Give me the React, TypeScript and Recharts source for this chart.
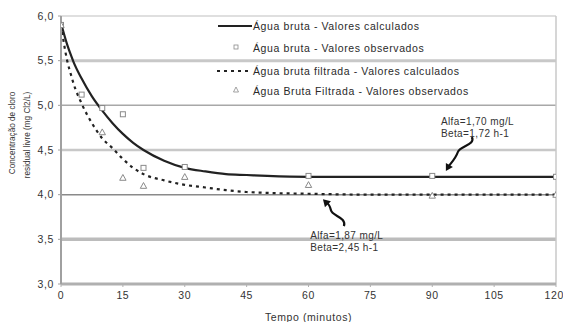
import React from 'react';
import {
  ComposedChart, Line, Scatter, XAxis, YAxis, ReferenceLine, ReferenceDot,
} from 'recharts';

// Calculated curves
const calcTime = [0, 1.5, 2.5, 3, 5, 7.5, 10, 12.5, 15, 17.5, 20, 25, 30, 35, 40, 45, 50, 60, 75, 90, 105, 120];
const brutaCalc = [5.92, 5.68, 5.55, 5.49, 5.3, 5.1, 4.94, 4.8, 4.68, 4.58, 4.5, 4.38, 4.3, 4.26, 4.23, 4.22, 4.21, 4.2, 4.2, 4.2, 4.2, 4.2];
const filtCalc = [5.9, 5.5, 5.33, 5.25, 5.02, 4.8, 4.63, 4.52, 4.4, 4.3, 4.23, 4.16, 4.11, 4.08, 4.05, 4.03, 4.02, 4.01, 4.0, 4.0, 4.0, 4.0];

// Observed values
const brutaObsTime = [0, 5, 10, 15, 20, 30, 60, 90, 120];
const brutaObs = [5.9, 5.12, 4.97, 4.9, 4.3, 4.31, 4.21, 4.21, 4.2];
const filtObsTime = [0, 10, 15, 20, 30, 60, 90, 120];
const filtObs = [5.9, 4.7, 4.19, 4.1, 4.2, 4.11, 3.99, 4.0];

const xTicks = [0, 15, 30, 45, 60, 75, 90, 105, 120];
const yTicks = [3, 3.5, 4, 4.5, 5, 5.5, 6];

const legendLabels = [
  'Água bruta - Valores calculados',
  'Água bruta - Valores observados',
  'Água bruta filtrada - Valores calculados',
  'Água Bruta Filtrada - Valores observados',
];

const annot1 = ['Alfa=1,70 mg/L', 'Beta=1,72 h-1'];
const annot2 = ['Alfa=1,87 mg/L', 'Beta=2,45 h-1'];

const calcData = calcTime.map((t, i) => ({ t, bruta: brutaCalc[i], filt: filtCalc[i] }));
const brutaObsData = brutaObsTime.map((t, i) => ({ t, v: brutaObs[i] }));
const filtObsData = filtObsTime.map((t, i) => ({ t, v: filtObs[i] }));

const FONT = '"Liberation Sans", Arial, sans-serif';
const TXT = '#333';

const gridStyle: Record<string, { stroke: string; w: number }> = {
  '6': { stroke: '#d4d4d4', w: 1.5 },
  '5.5': { stroke: '#c8c8c8', w: 3 },
  '5': { stroke: '#a8a8a8', w: 1.5 },
  '4.5': { stroke: '#c8c8c8', w: 2.5 },
  '4': { stroke: '#8a8a8a', w: 1.5 },
  '3.5': { stroke: '#bcbcbc', w: 3.5 },
};

const fmt = (v: number) => v.toFixed(1).replace('.', ',');

const SquareShape = (p: any) => (
  <rect x={p.cx - 2.5} y={p.cy - 2.5} width={5} height={5} fill="#fff" stroke="#8a8a8a" strokeWidth={1} />
);
const TriangleShape = (p: any) => (
  <path d={`M ${p.cx} ${p.cy - 3.2} L ${p.cx + 3.2} ${p.cy + 2.6} L ${p.cx - 3.2} ${p.cy + 2.6} Z`} fill="#fff" stroke="#8a8a8a" strokeWidth={1} />
);

const Arrow1 = (p: any) => {
  const { cx, cy } = p;
  return (
    <g>
      <path
        d={`M ${cx + 26} ${cy - 34} C ${cx + 30} ${cy - 26}, ${cx + 14} ${cy - 25}, ${cx + 12} ${cy - 19} C ${cx + 10} ${cy - 13}, ${cx + 6} ${cy - 9}, ${cx + 3} ${cy - 5}`}
        fill="none" stroke="#111" strokeWidth={2.2}
      />
      <path d={`M ${cx} ${cy} L ${cx} ${cy - 8} L ${cx + 7} ${cy - 4} Z`} fill="#111" />
    </g>
  );
};

const Arrow2 = (p: any) => {
  const { cx, cy } = p;
  return (
    <g>
      <path
        d={`M ${cx + 21} ${cy + 27} C ${cx + 24} ${cy + 18}, ${cx + 9} ${cy + 17}, ${cx + 8} ${cy + 11} C ${cx + 7} ${cy + 7}, ${cx + 6} ${cy + 5}, ${cx + 4} ${cy + 4}`}
        fill="none" stroke="#111" strokeWidth={2.2}
      />
      <path d={`M ${cx} ${cy} L ${cx + 8} ${cy + 2} L ${cx + 2} ${cy + 8} Z`} fill="#111" />
    </g>
  );
};

const textShape = (text: string) => (p: any) => (
  <text x={p.cx} y={p.cy} fontFamily={FONT} fontSize={10} letterSpacing={0.4} fill={TXT}>{text}</text>
);

const LegendBox = () => {
  const rows = [30, 52, 75, 95];
  return (
    <svg width={280} height={105} style={{ position: 'absolute', left: 216, top: 0, overflow: 'visible' }}>
      <line x1={2} y1={rows[0] - 4} x2={36} y2={rows[0] - 4} stroke="#222" strokeWidth={2.2} />
      <rect x={18} y={rows[1] - 7} width={4} height={4} fill="#fff" stroke="#8a8a8a" strokeWidth={0.8} />
      <line x1={1} y1={rows[2] - 4} x2={36} y2={rows[2] - 4} stroke="#222" strokeWidth={2} strokeDasharray="3 4" />
      <path d={`M 20 ${rows[3] - 8} L 22.5 ${rows[3] - 3} L 17.5 ${rows[3] - 3} Z`} fill="#fff" stroke="#8a8a8a" strokeWidth={0.8} />
      {legendLabels.map((l, i) => (
        <text key={l} x={37} y={rows[i]} fontFamily={FONT} fontSize={10.5} letterSpacing={0.6} fill="#2a2a2a">{l}</text>
      ))}
    </svg>
  );
};

const YLabel = (props: any) => {
  const vb = props.viewBox || { x: 0, y: 0, width: 0, height: 0 };
  const cy = vb.y + vb.height / 2 - 17;
  return (
    <g>
      <text x={0} y={0} transform={`translate(15, ${cy}) rotate(-90)`} textAnchor="middle" fontFamily={FONT} fontSize={8.2} fill={TXT}>
        Concentração de cloro
      </text>
      <text x={0} y={0} transform={`translate(30, ${cy + 2}) rotate(-90)`} textAnchor="middle" fontFamily={FONT} fontSize={8.2} fill={TXT}>
        residual livre (mg Cl2/L)
      </text>
    </g>
  );
};

const tickStyle = { fontFamily: FONT, fontSize: 10.5, fill: TXT, letterSpacing: 0.6 };

export default function App() {
  return (
    <div style={{ position: 'absolute', left: 0, top: 0, width: 563, height: 322, background: '#fff' }}>
      <ComposedChart width={563} height={322} margin={{ top: 16, right: 7, bottom: 0, left: 0 }}>
        <XAxis
          dataKey="t" type="number" domain={[0, 120]} ticks={xTicks} allowDataOverflow
          height={38}
          axisLine={{ stroke: '#b0b0b0', strokeWidth: 3 }}
          tickLine={{ stroke: '#b0b0b0' }} tickSize={3} tickMargin={5}
          tick={tickStyle}
          label={{ value: 'Tempo (minutos)', position: 'insideBottom', offset: 1, fontFamily: FONT, fontSize: 10.5, letterSpacing: 0.6, fill: TXT }}
        />
        <YAxis
          type="number" domain={[3, 6]} ticks={yTicks} width={61}
          axisLine={{ stroke: '#a0a0a0', strokeWidth: 2 }}
          tickLine={{ stroke: '#a0a0a0' }} tickSize={3} tickMargin={4}
          tickFormatter={fmt}
          tick={tickStyle}
          label={{ content: <YLabel /> }}
        />
        {yTicks.filter((v) => v > 3).map((v) => (
          <ReferenceLine key={v} y={v} stroke={gridStyle[String(v)].stroke} strokeWidth={gridStyle[String(v)].w} ifOverflow="extendDomain" />
        ))}
        <ReferenceLine x={120} stroke="#c8c8c8" strokeWidth={1.5} />
        <Line data={calcData} dataKey="bruta" type="monotone" stroke="#222" strokeWidth={2.2} dot={false} isAnimationActive={false} />
        <Line data={calcData} dataKey="filt" type="monotone" stroke="#222" strokeWidth={2.2} strokeDasharray="3 4" dot={false} isAnimationActive={false} />
        <Scatter data={brutaObsData} dataKey="v" shape={SquareShape} isAnimationActive={false} />
        <Scatter data={filtObsData} dataKey="v" shape={TriangleShape} isAnimationActive={false} />
        <ReferenceDot x={93.3} y={4.265} r={0} shape={Arrow1} />
        <ReferenceDot x={63.5} y={3.95} r={0} shape={Arrow2} />
        <ReferenceDot x={92.1} y={4.78} r={0} shape={textShape(annot1[0])} />
        <ReferenceDot x={92.1} y={4.645} r={0} shape={textShape(annot1[1])} />
        <ReferenceDot x={60.4} y={3.5} r={0} shape={textShape(annot2[0])} />
        <ReferenceDot x={60.4} y={3.37} r={0} shape={textShape(annot2[1])} />
      </ComposedChart>
      <LegendBox />
    </div>
  );
}
